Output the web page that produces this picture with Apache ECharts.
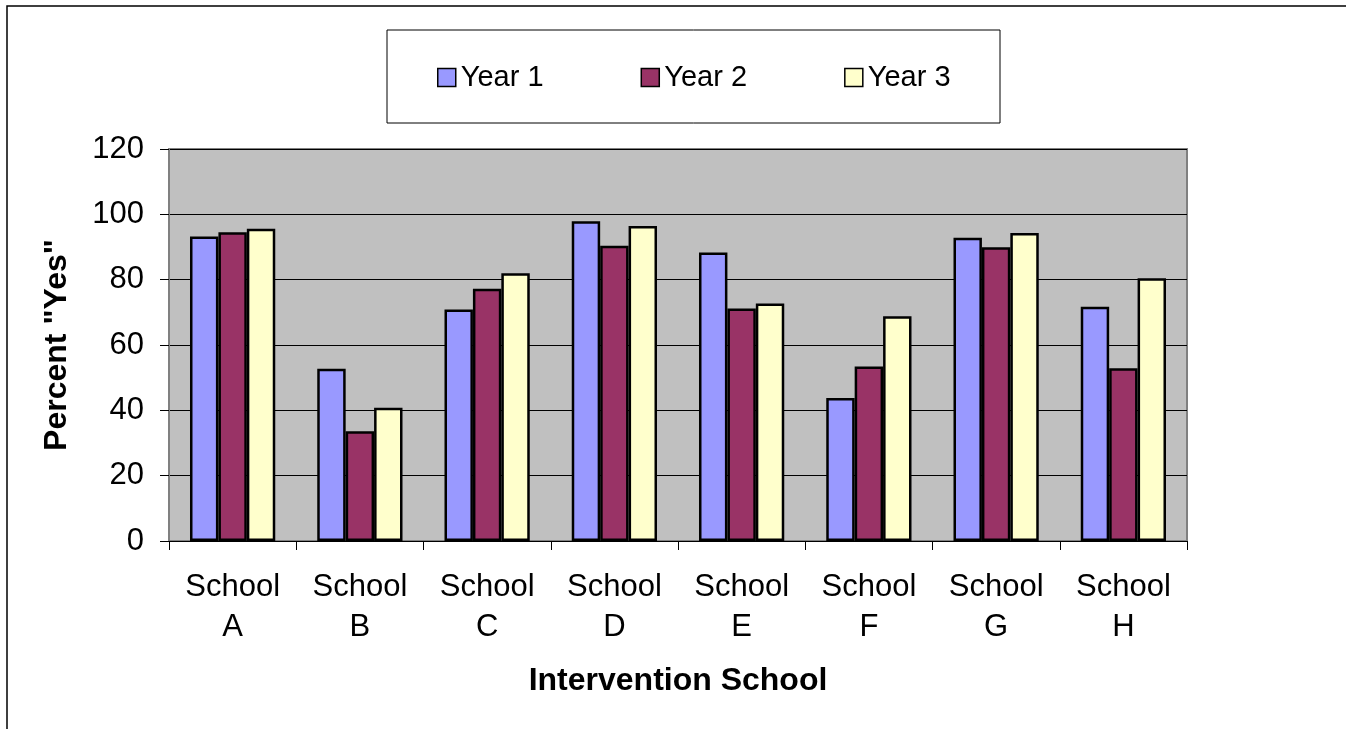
<!DOCTYPE html>
<html>
<head>
<meta charset="utf-8">
<style>
  html, body { margin: 0; padding: 0; background: #fff; }
  #chart { width: 1346px; height: 729px; }
</style>
<script src="https://cdn.jsdelivr.net/npm/echarts@6/dist/echarts.min.js"></script>
</head>
<body>
<div id="chart"></div>
<script>
// Schools surveyed and the share answering "Yes" in each year
var schools = ['School\nA', 'School\nB', 'School\nC', 'School\nD', 'School\nE', 'School\nF', 'School\nG', 'School\nH'];
var seriesNames = ['Year 1', 'Year 2', 'Year 3'];
var year1 = [93.2, 52.7, 70.9, 97.9, 88.3, 43.8, 92.8, 71.7];
var year2 = [94.5, 33.6, 77.2, 90.4, 71.2, 53.4, 89.9, 52.9];
var year3 = [95.6, 40.8, 82.0, 96.4, 72.7, 68.8, 94.3, 80.4];
var yTicks = [0, 20, 40, 60, 80, 100, 120];

var colors = ['#9999FF', '#993366', '#FFFFCC'];
var font = '"Liberation Sans", Arial, sans-serif';
var values = [year1, year2, year3];

var chart = echarts.init(document.getElementById('chart'), null, { renderer: 'canvas' });

chart.setOption({
  backgroundColor: '#ffffff',
  animation: false,
  textStyle: { fontFamily: font, color: '#000' },
  graphic: [
    // outer chart frame
    { type: 'rect', z: -10, shape: { x: 7, y: 6, width: 1400, height: 800 },
      style: { fill: 'none', stroke: '#000', lineWidth: 1.5 } },
    // legend box
    { type: 'rect', z: -5, shape: { x: 387, y: 30, width: 613, height: 93 },
      style: { fill: '#fff', stroke: '#000', lineWidth: 1 } }
  ],
  legend: {
    left: 437,
    top: 63,
    padding: 0,
    itemGap: 97,
    itemWidth: 18,
    itemHeight: 18,
    icon: 'rect',
    itemStyle: { borderColor: '#000', borderWidth: 1.5 },
    textStyle: { fontFamily: font, fontSize: 29, color: '#000', lineHeight: 29 },
    data: seriesNames
  },
  grid: {
    left: 169, right: 1346 - 1187, top: 149, bottom: 729 - 541,
    show: true,
    backgroundColor: '#C0C0C0',
    borderColor: '#808080',
    borderWidth: 2
  },
  xAxis: {
    type: 'category',
    data: schools,
    name: 'Intervention School',
    nameLocation: 'middle',
    nameGap: 124,
    nameTextStyle: { fontFamily: font, fontSize: 32, fontWeight: 'bold', color: '#000' },
    axisLine: { lineStyle: { color: '#000', width: 1 } },
    axisTick: { show: true, length: 9, lineStyle: { color: '#000' } },
    axisLabel: { fontFamily: font, fontSize: 31, color: '#000', lineHeight: 40, margin: 26 }
  },
  yAxis: {
    type: 'value',
    min: yTicks[0],
    max: yTicks[yTicks.length - 1],
    interval: 20,
    name: 'Percent "Yes"',
    nameLocation: 'middle',
    nameGap: 96,
    nameTextStyle: { fontFamily: font, fontSize: 32, fontWeight: 'bold', color: '#000' },
    axisLine: { show: true, lineStyle: { color: '#808080', width: 2 } },
    axisTick: { show: true, length: 9, lineStyle: { color: '#000' } },
    axisLabel: { fontFamily: font, fontSize: 31, color: '#000', margin: 25 },
    splitLine: { show: true, lineStyle: { color: '#000', width: 1 } }
  },
  series: seriesNames.map(function (name, i) {
    return {
      name: name,
      type: 'bar',
      data: values[i],
      barGap: '0%',
      barCategoryGap: '33%',
      itemStyle: { color: colors[i], borderColor: '#000', borderWidth: 2.5 }
    };
  })
});
</script>
</body>
</html>
